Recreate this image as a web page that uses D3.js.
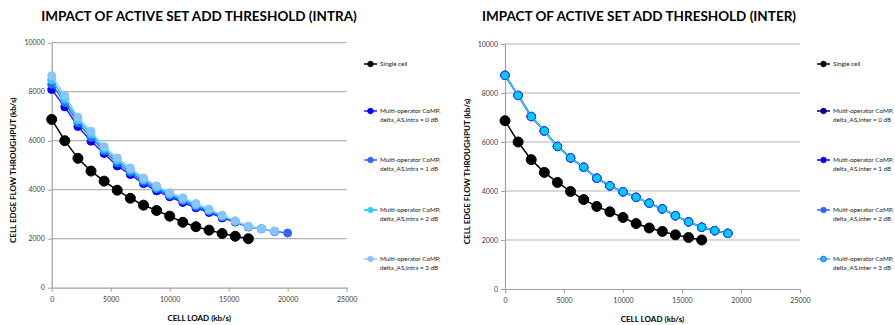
<!DOCTYPE html>
<html>
<head>
<meta charset="utf-8">
<script src="https://cdn.jsdelivr.net/npm/d3@7"></script>
<style>
  body { margin: 0; background: #fff; }
  svg { display: block; font-family: Lato, "Open Sans", sans-serif; }
</style>
</head>
<body>
<svg id="chart" width="895" height="325"></svg>
<script>
// cell load (kb/s) grid shared by all series
const cellLoad = [0, 1111, 2222, 3333, 4444, 5556, 6667, 7778, 8889, 10000,
  11111, 12222, 13333, 14444, 15556, 16667, 17778, 18889, 20000];

const singleCell = [6870, 6000, 5280, 4760, 4350, 3980, 3650, 3370, 3150, 2920,
  2670, 2490, 2350, 2210, 2100, 2000];

const intra0 = [8090, 7380, 6580, 5980, 5480, 4970, 4620, 4250, 3950, 3710,
  3480, 3260, 3070, 2850, 2680, 2480, 2400, 2290];
const intra1 = [8300, 7560, 6720, 6130, 5580, 5090, 4710, 4330, 4030, 3770,
  3550, 3320, 3120, 2890, 2700, 2490, 2410, 2300, 2230];
const intra2 = [8480, 7700, 6850, 6270, 5670, 5200, 4800, 4410, 4100, 3820,
  3610, 3380, 3170, 2930, 2710, 2500, 2410, 2300];
const intra3 = [8650, 7840, 6960, 6390, 5760, 5300, 4890, 4480, 4160, 3880,
  3670, 3440, 3210, 2960, 2730, 2510, 2410, 2310];

const inter0 = [8720, 7900, 7040, 6450, 5820, 5350, 4970, 4520, 4210, 3970,
  3740, 3500, 3270, 2990, 2740, 2520, 2380, 2270];
const inter1 = [8720, 7900, 7040, 6450, 5820, 5350, 4970, 4520, 4210, 3970,
  3740, 3500, 3270, 2990, 2740, 2520, 2380, 2270];
const inter2 = [8720, 7900, 7040, 6450, 5820, 5350, 4970, 4520, 4210, 3970,
  3740, 3500, 3270, 2990, 2740, 2520, 2380, 2270];
const inter3 = [8720, 7900, 7040, 6450, 5820, 5350, 4970, 4520, 4210, 3970,
  3740, 3500, 3270, 2990, 2740, 2520, 2380, 2270];

const xTicks = [0, 5000, 10000, 15000, 20000, 25000];
const yTicks = [0, 2000, 4000, 6000, 8000, 10000];

const intraNames = ["Single cell",
  ["Multi-operator CoMP,", "delta_AS,intra = 0 dB"],
  ["Multi-operator CoMP,", "delta_AS,intra = 1 dB"],
  ["Multi-operator CoMP,", "delta_AS,intra = 2 dB"],
  ["Multi-operator CoMP,", "delta_AS,intra = 3 dB"]];
const interNames = ["Single cell",
  ["Multi-operator CoMP,", "delta_AS,inter = 0 dB"],
  ["Multi-operator CoMP,", "delta_AS,inter = 1 dB"],
  ["Multi-operator CoMP,", "delta_AS,inter = 2 dB"],
  ["Multi-operator CoMP,", "delta_AS,inter = 3 dB"]];

const svg = d3.select("#chart");

function drawChart(opts) {
  const innerW = 295, innerH = 245;
  const g = svg.append("g").attr("transform", `translate(${opts.left},${opts.top})`);

  const x = d3.scaleLinear().domain([0, 25000]).range([0, innerW]);
  const y = d3.scaleLinear().domain([0, 10000]).range([innerH, 0]);

  // title
  svg.append("text")
    .attr("x", opts.titleX).attr("y", 21)
    .attr("text-anchor", "middle")
    .style("font-size", "13.5px").style("font-weight", "bold")
    .attr("fill", "#000")
    .text(opts.title);

  // gridlines
  g.append("g")
    .selectAll("line")
    .data(yTicks.filter(d => d > 0))
    .join("line")
    .attr("x1", 0).attr("x2", innerW)
    .attr("y1", d => y(d)).attr("y2", d => y(d))
    .attr("stroke", "#b4b4b4").attr("stroke-width", 1.2);

  const fmt = d3.format("d");
  const yAxis = d3.axisLeft(y).tickValues(yTicks).tickFormat(fmt).tickSize(4).tickSizeOuter(0).tickPadding(3);
  const xAxis = d3.axisBottom(x).tickValues(xTicks).tickFormat(fmt).tickSize(4).tickSizeOuter(0).tickPadding(5);

  g.append("g").call(yAxis)
    .call(a => a.select(".domain").attr("stroke", "#a0a0a0").attr("stroke-width", 1.2))
    .call(a => a.selectAll(".tick line").attr("stroke", "#a0a0a0"))
    .call(a => a.selectAll("text").attr("fill", "#404040").style("font-size", "7px").style("font-family", "Lato, sans-serif"));

  g.append("g").attr("transform", `translate(0,${innerH})`).call(xAxis)
    .call(a => a.select(".domain").attr("stroke", "#a0a0a0").attr("stroke-width", 1.2))
    .call(a => a.selectAll(".tick line").attr("stroke", "#a0a0a0"))
    .call(a => a.selectAll("text").attr("fill", "#404040").style("font-size", "7px").style("font-family", "Lato, sans-serif"));

  // axis titles
  g.append("text")
    .attr("x", innerW / 2).attr("y", innerH + 33)
    .attr("text-anchor", "middle")
    .style("font-size", "8px").style("font-weight", "bold")
    .text("CELL LOAD (kb/s)");

  g.append("text")
    .attr("transform", `translate(${opts.yTitleX - opts.left},${innerH / 2 + 5}) rotate(-90)`)
    .attr("text-anchor", "middle")
    .style("font-size", "8px").style("font-weight", "bold")
    .text("CELL EDGE FLOW THROUGHPUT (kb/s)");

  const line = d3.line().x(d => x(d[0])).y(d => y(d[1]));

  opts.series.forEach(s => {
    const pts = s.values.map((v, i) => [cellLoad[i], v]);
    const sg = g.append("g");
    sg.append("path")
      .attr("d", line(pts))
      .attr("fill", "none")
      .attr("stroke", s.line)
      .attr("stroke-width", 1.5);
    sg.selectAll("circle")
      .data(pts)
      .join("circle")
      .attr("cx", d => x(d[0]))
      .attr("cy", d => y(d[1]))
      .attr("r", s.r)
      .attr("fill", s.fill)
      .attr("stroke", s.stroke)
      .attr("stroke-width", 1);
  });

  // legend
  const legendY = [64, 111, 160, 210, 259];
  const lg = svg.append("g");
  opts.series.forEach((s, i) => {
    const ly = legendY[i];
    lg.append("line")
      .attr("x1", opts.legendX).attr("x2", opts.legendX + 13)
      .attr("y1", ly).attr("y2", ly)
      .attr("stroke", s.line).attr("stroke-width", 1.5);
    lg.append("circle")
      .attr("cx", opts.legendX + 6.5).attr("cy", ly)
      .attr("r", 2.8)
      .attr("fill", s.fill).attr("stroke", s.stroke).attr("stroke-width", 0.8);
    const name = opts.names[i];
    const lines = Array.isArray(name) ? name : [name];
    lines.forEach((t, k) => {
      lg.append("text")
        .attr("x", opts.legendX + 16).attr("y", ly + 2 + k * 9)
        .style("font-size", "6.3px")
        .attr("fill", "#222")
        .text(t);
    });
  });
}

drawChart({
  left: 51.7, top: 42.7, titleX: 199, yTitleX: 16, legendX: 364,
  title: "IMPACT OF ACTIVE SET ADD THRESHOLD (INTRA)",
  names: intraNames,
  series: [
    { values: singleCell, line: "#000", fill: "#000", stroke: "#000", r: 5 },
    { values: intra0, line: "#1f1fff", fill: "#0000ff", stroke: "#0000ff", r: 4 },
    { values: intra1, line: "#3366ff", fill: "#3366ff", stroke: "#3366ff", r: 4 },
    { values: intra2, line: "#00c0ff", fill: "#33ccff", stroke: "#33ccff", r: 4 },
    { values: intra3, line: "#99ccff", fill: "#88c4ff", stroke: "#88c4ff", r: 4 }
  ]
});

drawChart({
  left: 505, top: 44, titleX: 639, yTitleX: 469.5, legendX: 817,
  title: "IMPACT OF ACTIVE SET ADD THRESHOLD (INTER)",
  names: interNames,
  series: [
    { values: singleCell, line: "#000", fill: "#000", stroke: "#000", r: 5 },
    { values: inter0, line: "#000080", fill: "#000080", stroke: "#000080", r: 4.2 },
    { values: inter1, line: "#0000ff", fill: "#0000ff", stroke: "#0000ff", r: 4.2 },
    { values: inter2, line: "#3366ff", fill: "#3366ff", stroke: "#3366ff", r: 4.2 },
    { values: inter3, line: "#33ccff", fill: "#00ccff", stroke: "#1a3cff", r: 4.2 }
  ]
});
</script>
</body>
</html>
